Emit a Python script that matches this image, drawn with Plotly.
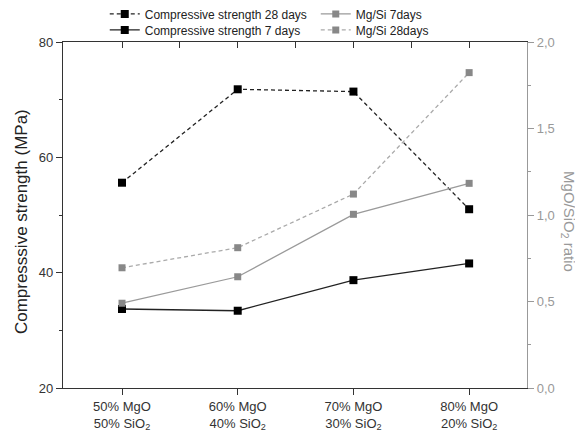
import plotly.graph_objects as go

categories = ["50% MgO<br>50% SiO<sub>2</sub>", "60% MgO<br>40% SiO<sub>2</sub>",
              "70% MgO<br>30% SiO<sub>2</sub>", "80% MgO<br>20% SiO<sub>2</sub>"]
cs_28 = [55.6, 71.8, 71.4, 51.0]
cs_7 = [33.7, 33.4, 38.7, 41.6]
mgsi_7 = [0.49, 0.643, 1.004, 1.183]
mgsi_28 = [0.695, 0.811, 1.121, 1.823]
xpos = [0, 1, 2, 3]

FONT = "Liberation Sans, Arial, sans-serif"
fig = go.Figure()

fig.add_trace(go.Scatter(x=xpos, y=cs_28, name="Compressive strength 28 days",
                         mode="lines+markers", legend="legend",
                         line=dict(color="#222222", width=1.3, dash="4px,3px"),
                         marker=dict(symbol="square", size=8, color="#000000")))
fig.add_trace(go.Scatter(x=xpos, y=mgsi_7, name="Mg/Si 7days", yaxis="y2",
                         mode="lines+markers", legend="legend",
                         line=dict(color="#9a9a9a", width=1.3),
                         marker=dict(symbol="square", size=7, color="#888888")))
fig.add_trace(go.Scatter(x=xpos, y=cs_7, name="Compressive strength 7 days",
                         mode="lines+markers", legend="legend2",
                         line=dict(color="#222222", width=1.3),
                         marker=dict(symbol="square", size=8, color="#000000")))
fig.add_trace(go.Scatter(x=xpos, y=mgsi_28, name="Mg/Si 28days", yaxis="y2",
                         mode="lines+markers", legend="legend2",
                         line=dict(color="#aaaaaa", width=1.3, dash="4px,3px"),
                         marker=dict(symbol="square", size=7, color="#888888")))
# carrier for top axis (invisible)
fig.add_trace(go.Scatter(x=[xpos[0]], y=[cs_7[0]], xaxis="x2", mode="markers",
                         marker=dict(opacity=0), showlegend=False, hoverinfo="skip"))

legend_common = dict(orientation="h", x=0.09, xanchor="left", yanchor="middle",
                     entrywidth=166, entrywidthmode="pixels",
                     font=dict(size=12, color="#222222"), tracegroupgap=0,
                     itemwidth=30, bgcolor="rgba(0,0,0,0)")

fig.update_layout(
    width=575, height=424,
    margin=dict(l=55, r=56, t=34, b=44, autoexpand=False),
    paper_bgcolor="white", plot_bgcolor="white",
    separators=",.",
    font=dict(family=FONT, size=12, color="#333333"),
    showlegend=True,
    legend=dict(y=1.081, **legend_common),
    legend2=dict(y=1.035, **legend_common),
    xaxis=dict(range=[-0.51, 3.5], tickvals=xpos, ticktext=categories,
               showline=True, linecolor="#333333", linewidth=1.2,
               ticks="outside", ticklen=6, tickcolor="#333333",
               showgrid=False, zeroline=False,
               tickfont=dict(size=13, color="#333333")),
    xaxis2=dict(overlaying="x", side="top", anchor="y", matches="x",
                tickvals=[0, 0.5, 1, 1.5, 2, 2.5, 3],
                showticklabels=False, ticks="inside", ticklen=6,
                tickcolor="#333333", showline=True, linecolor="#333333",
                linewidth=1.2, showgrid=False, zeroline=False),
    yaxis=dict(range=[20, 80], tickvals=[20, 40, 60, 80],
               showline=True, linecolor="#333333", linewidth=1.2,
               ticks="outside", ticklen=6, tickcolor="#333333",
               minor=dict(tickvals=[30, 50, 70], ticks="outside", ticklen=3,
                          tickcolor="#333333"),
               showgrid=False, zeroline=False,
               tickfont=dict(size=13, color="#333333")),
    yaxis2=dict(range=[0, 2], overlaying="y", side="right",
                tickvals=[0, 0.5, 1, 1.5, 2], tickformat=".1f",
                showline=True, linecolor="#999999", linewidth=1.2,
                ticks="outside", ticklen=6, tickcolor="#999999",
                minor=dict(tickvals=[0.25, 0.75, 1.25, 1.75], ticks="outside",
                           ticklen=3, tickcolor="#999999"),
                showgrid=False, zeroline=False,
                tickfont=dict(size=13, color="#999999")),
    annotations=[
        dict(text="Compresssive strength (MPa)", xref="paper", yref="paper",
             x=-0.088, y=0.48, xanchor="center", yanchor="middle",
             textangle=-90, showarrow=False,
             font=dict(size=17, color="#222222")),
        dict(text="MgO/SiO<sub>2</sub> ratio", xref="paper", yref="paper",
             x=1.088, y=0.48, xanchor="center", yanchor="middle",
             textangle=90, showarrow=False,
             font=dict(size=15, color="#999999"))],
)

fig.write_html("out.html")
